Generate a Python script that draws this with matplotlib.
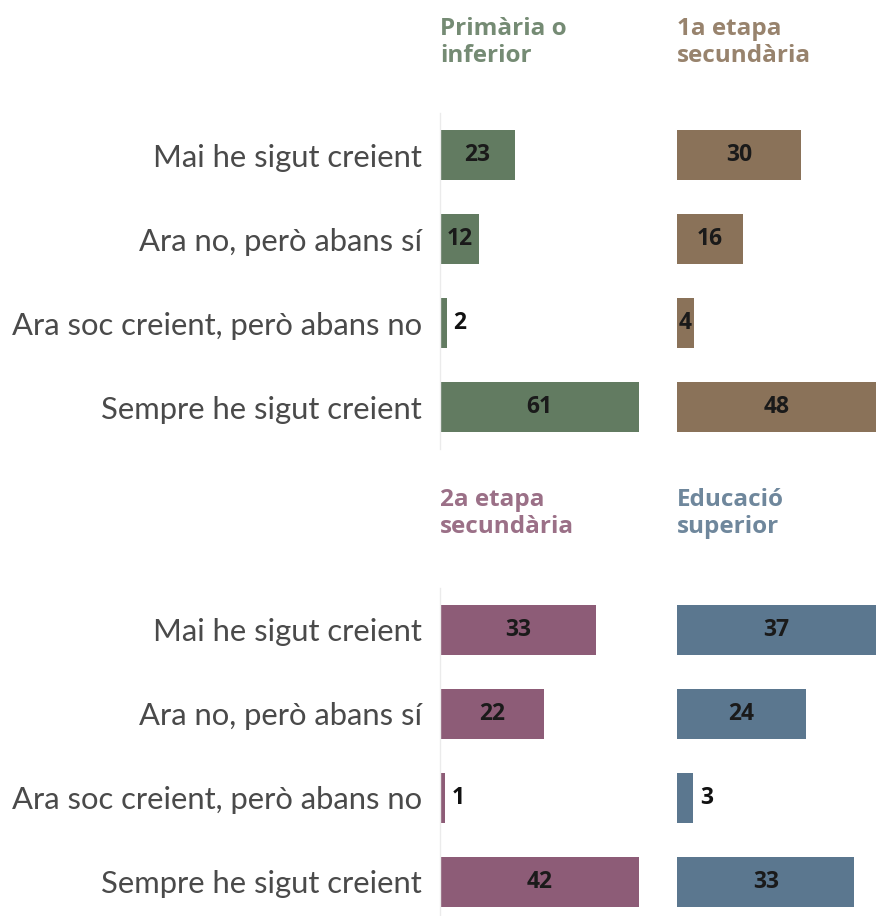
import numpy as np
import matplotlib.pyplot as plt

# === Data ===
categories = ["Mai he sigut creient", "Ara no, però abans sí",
              "Ara soc creient, però abans no", "Sempre he sigut creient"]
groups = ["Primària o\ninferior", "1a etapa\nsecundària",
          "2a etapa\nsecundària", "Educació\nsuperior"]
values_primaria = [23, 12, 2, 61]
values_sec1 = [30, 16, 4, 48]
values_sec2 = [33, 22, 1, 42]
values_superior = [37, 24, 3, 33]
colors = ["#627b61", "#8a7259", "#8d5c77", "#5b778f"]

all_values = [values_primaria, values_sec1, values_sec2, values_superior]

plt.rcParams['font.family'] = ['Lato', 'DejaVu Sans']
bold_font = ['Open Sans', 'DejaVu Sans']

W, H = 876, 916
fig = plt.figure(figsize=(W / 100, H / 100), dpi=100)
fig.patch.set_facecolor('white')

def px_axes(x0, y0, w, h):
    # pixel box (top-left origin) -> figure fraction
    return fig.add_axes([x0 / W, 1 - (y0 + h) / H, w / W, h / H])

col_x = [440, 677]
row_y = [113, 588]      # top of bar area per row
title_y = [17, 488]
panel_w = 199
step = 84               # pixels per category

for k, vals in enumerate(all_values):
    r, c = divmod(k, 2)
    ax = px_axes(col_x[c], row_y[r], panel_w, step * 4)
    y = np.arange(len(categories))
    ax.barh(y, vals, height=0.6, color=colors[k])
    ax.set_xlim(0, max(vals))
    ax.set_ylim(3.5, -0.5)
    for yi, v in zip(y, vals):
        if v >= 4:
            ax.text(v / 2, yi, str(v), ha='center', va='center', family=bold_font,
                    fontsize=16.5, fontweight='bold', color='#1a1a1a')
        else:
            ax.annotate(str(v), (v, yi), xytext=(5, 0), textcoords='offset points',
                        ha='left', va='center', family=bold_font, fontsize=16.5,
                        fontweight='bold', color='#111111')
    for s in ['top', 'right', 'bottom']:
        ax.spines[s].set_visible(False)
    ax.set_xticks([])
    if c == 0:
        ax.spines['left'].set_color('#ebebeb')
        ax.spines['left'].set_linewidth(1)
        ax.set_yticks(y)
        ax.set_yticklabels(categories, fontsize=22.3, color='#4a4a4a')
        ax.tick_params(axis='y', length=0, pad=13)
    else:
        ax.spines['left'].set_visible(False)
        ax.set_yticks([])
    fig.text(col_x[c] / W, 1 - title_y[r] / H, groups[k], ha='left', va='top',
             family=bold_font, fontsize=17.5, fontweight='bold', color=colors[k],
             alpha=0.88, linespacing=1.18)

fig.savefig('out.png', dpi=100, facecolor='white')
